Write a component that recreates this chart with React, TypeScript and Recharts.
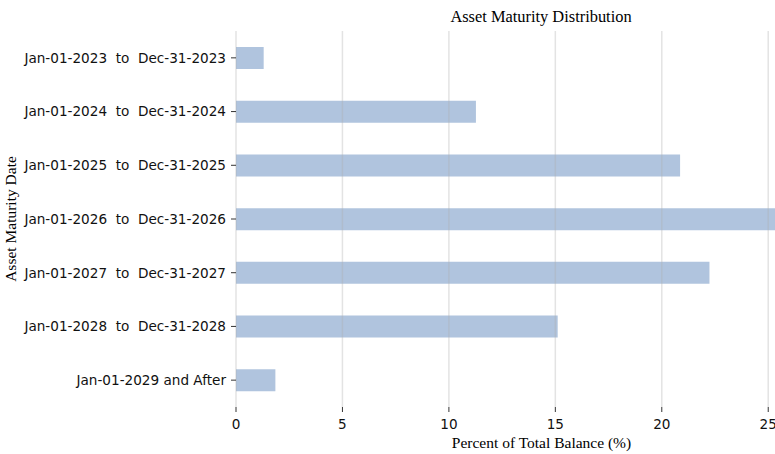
import React from 'react';
import { BarChart, Bar, XAxis, YAxis, ReferenceLine, Label } from 'recharts';

const categories = [
  'Jan-01-2023  to  Dec-31-2023',
  'Jan-01-2024  to  Dec-31-2024',
  'Jan-01-2025  to  Dec-31-2025',
  'Jan-01-2026  to  Dec-31-2026',
  'Jan-01-2027  to  Dec-31-2027',
  'Jan-01-2028  to  Dec-31-2028',
  'Jan-01-2029 and After',
];
const percents = [1.3, 11.27, 20.86, 27.37, 22.24, 15.11, 1.85];
const xTicks = [0, 5, 10, 15, 20, 25];
const xMax = 28.7;

const title = 'Asset Maturity Distribution';
const xLabel = 'Percent of Total Balance (%)';
const yLabel = 'Asset Maturity Date';

const data = categories.map((name, i) => ({ name, value: percents[i] }));

const SANS = 'DejaVu Sans';
const SERIF = 'Liberation Serif';

const YTick = (props: any) => {
  const { x, y, payload } = props;
  return (
    <text
      x={x}
      y={y}
      dy="0.36em"
      textAnchor="end"
      fontFamily={SANS}
      fontSize={13.6}
      fill="#111"
      style={{ whiteSpace: 'pre' }}
      xmlSpace="preserve"
    >
      {payload.value}
    </text>
  );
};

const XTick = (props: any) => {
  const { x, y, payload } = props;
  return (
    <text
      x={x}
      y={y}
      dy="0.73em"
      textAnchor="middle"
      fontFamily={SANS}
      fontSize={13.6}
      fill="#111"
    >
      {payload.value}
    </text>
  );
};

const XLabelContent = (props: any) => {
  const vb = props.viewBox || {};
  const cx = vb.x + vb.width / 2;
  return (
    <text x={cx} y={448} textAnchor="middle" fontFamily={SERIF} fontSize={15.5} fill="#000">
      {xLabel}
    </text>
  );
};

const YLabelContent = (props: any) => {
  const vb = props.viewBox || {};
  const cy = vb.y + vb.height / 2;
  return (
    <text
      x={16}
      y={cy}
      transform={`rotate(-90, 16, ${cy})`}
      textAnchor="middle"
      fontFamily={SERIF}
      fontSize={15.5}
      fill="#000"
    >
      {yLabel}
    </text>
  );
};

export default function App() {
  return (
    <div
      style={{
        position: 'absolute',
        left: 0,
        top: 0,
        width: 775,
        height: 454,
        overflow: 'hidden',
        background: '#fff',
      }}
    >
      <div
        style={{
          position: 'absolute',
          left: 341,
          width: 400,
          top: 8,
          textAlign: 'center',
          fontFamily: SERIF,
          fontSize: 16.4,
          lineHeight: '18px',
          color: '#000',
        }}
      >
        {title}
      </div>
      <BarChart
        width={847}
        height={454}
        data={data}
        layout="vertical"
        margin={{ top: 31, right: 0, bottom: 0, left: 0 }}
      >
        <XAxis
          type="number"
          domain={[0, xMax]}
          ticks={xTicks}
          allowDataOverflow
          axisLine={false}
          tickLine={{ stroke: '#333', strokeWidth: 1 }}
          tickSize={5}
          tickMargin={7}
          height={47}
          tick={<XTick />}
        >
          <Label content={<XLabelContent />} />
        </XAxis>
        <YAxis
          type="category"
          dataKey="name"
          width={236}
          axisLine={false}
          tickLine={{ stroke: '#333', strokeWidth: 1 }}
          tickSize={5}
          tickMargin={5}
          tick={<YTick />}
          interval={0}
        >
          <Label content={<YLabelContent />} />
        </YAxis>
        <Bar dataKey="value" fill="#b0c4de" barSize={22} isAnimationActive={false} />
        {xTicks.map((t) => (
          <ReferenceLine
            key={t}
            x={t}
            stroke="#b0b0b0"
            strokeOpacity={0.35}
            strokeWidth={1.5}
          />
        ))}
      </BarChart>
    </div>
  );
}
